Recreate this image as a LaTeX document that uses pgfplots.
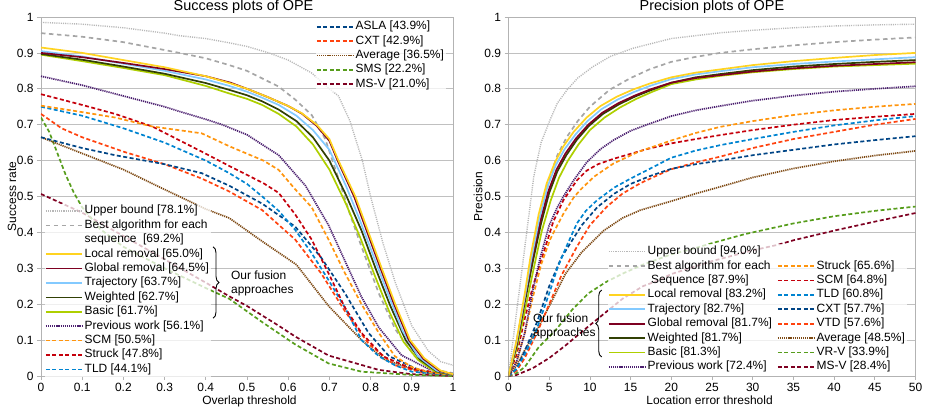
\documentclass[border=0pt]{standalone}
\usepackage{fontspec}
\setmainfont{Liberation Sans}
\usepackage{pgfplots}
\pgfplotsset{compat=1.18}
\usetikzlibrary{decorations.pathreplacing}

\definecolor{cUB}{HTML}{B8B8B8}
\definecolor{cBest}{HTML}{A6A6A6}
\definecolor{cYellow}{HTML}{FFD320}
\definecolor{cDarkRed}{HTML}{7E0021}
\definecolor{cLightBlue}{HTML}{83CAFF}
\definecolor{cOlive}{HTML}{314004}
\definecolor{cLime}{HTML}{AECF00}
\definecolor{cPurple}{HTML}{4B1F6F}
\definecolor{cOrange}{HTML}{FF950E}
\definecolor{cRed}{HTML}{C5000B}
\definecolor{cBlue}{HTML}{0084D1}
\definecolor{cNavy}{HTML}{004586}
\definecolor{cOrRed}{HTML}{FF420E}
\definecolor{cGreen}{HTML}{579D1C}
\definecolor{cBrown}{HTML}{7E4A14}
\definecolor{cAxis}{HTML}{B3B3B3}
\definecolor{cGrid}{HTML}{C0C0C0}

\tikzset{
  ubS/.style={color=cUB, line width=1.4bp, dash pattern=on 1.1bp off 1.1bp},
  bestS/.style={color=cBest, line width=1.7bp, dash pattern=on 4.5bp off 3.5bp},
  solS/.style={line width=1.7bp, line join=round},
  dotS/.style={line width=1.7bp, dash pattern=on 1.2bp off 0.9bp},
  dasS/.style={line width=1.7bp, dash pattern=on 4bp off 2.5bp},
}

\pgfplotsset{
  common/.style={
    scale only axis, width=#1, height=359bp, ymin=0, ymax=1,
    ytick={0,0.1,0.2,0.3,0.4,0.5,0.6,0.7,0.8,0.9,1},
    yticklabels={0,0.1,0.2,0.3,0.4,0.5,0.6,0.7,0.8,0.9,1},
    axis line style={cAxis, line width=0.8bp},
    ymajorgrids, major grid style={cGrid, line width=0.7bp},
    tick align=outside, xtick pos=left, ytick pos=left,
    major tick length=4bp, tick style={cAxis, line width=0.7bp},
    tick label style={font=\fontsize{12}{14}\selectfont},
    label style={font=\fontsize{12}{14}\selectfont},
    title style={font=\fontsize{14.5}{17}\selectfont},
    legend cell align=left,
    legend style={draw=none, fill=white, fill opacity=0.75, draw opacity=1, text opacity=1,
      inner sep=0pt, outer sep=0pt, row sep=0pt,
      font=\fontsize{12}{14}\selectfont,
      nodes={inner xsep=2bp, inner ysep=1.6bp, text height=8.6bp, text depth=2.6bp},
      /tikz/every even column/.append style={column sep=3bp}},
  },
}

\begin{document}
\begin{tikzpicture}
\useasboundingbox (-41bp,-35bp) rectangle (885bp,376bp);

% ================= LEFT: success plot =================
\begin{axis}[common=412bp, at={(0,0)}, anchor=south west,
  xmin=0, xmax=1,
  xtick={0,0.1,0.2,0.3,0.4,0.5,0.6,0.7,0.8,0.9,1},
  xticklabels={0,0.1,0.2,0.3,0.4,0.5,0.6,0.7,0.8,0.9,1},
  title={Success plots of OPE}, title style={at={(0.4915,1)}, anchor=south, yshift=-5.5bp},
  xlabel={Overlap threshold}, xlabel style={at={(0.506,0)}, anchor=base, yshift=-28.5bp},
  ylabel={Success rate}, ylabel style={at={(-0.0704,0.5)}, anchor=center},
  legend image code/.code={\draw[#1] (0bp,0bp) -- (36bp,0bp);},
  legend style={at={(0.0097,0.4797)}, anchor=north west},
]
% Upper bound
\addplot[ubS, forget plot] coordinates {(0,0.985)(0.1,0.98)(0.2,0.97)(0.3,0.955)(0.336,0.948)(0.4,0.94)(0.457,0.928)(0.5,0.918)(0.553,0.90)(0.6,0.88)(0.657,0.844)(0.7,0.80)(0.722,0.78)(0.75,0.71)(0.78,0.60)(0.8,0.50)(0.83,0.37)(0.86,0.26)(0.9,0.14)(0.94,0.07)(0.97,0.04)(1.0,0.03)};
% Best algorithm
\addplot[bestS, forget plot] coordinates {(0,0.955)(0.1,0.945)(0.2,0.93)(0.336,0.90)(0.4,0.885)(0.457,0.866)(0.5,0.85)(0.577,0.806)(0.617,0.77)(0.657,0.727)(0.69,0.66)(0.722,0.55)(0.75,0.45)(0.778,0.36)(0.82,0.23)(0.86,0.13)(0.907,0.055)(0.955,0.018)(1,0.008)};
% MS-V
\addplot[dasS, cDarkRed, forget plot] coordinates {(0,0.507)(0.1,0.455)(0.2,0.39)(0.3,0.325)(0.4,0.26)(0.457,0.222)(0.5,0.195)(0.577,0.14)(0.617,0.11)(0.698,0.057)(0.82,0.017)(0.9,0.005)(1,0)};
% SMS
\addplot[dasS, cGreen, forget plot] coordinates {(0,0.72)(0.02,0.68)(0.04,0.62)(0.06,0.56)(0.08,0.51)(0.1,0.47)(0.143,0.41)(0.2,0.36)(0.3,0.30)(0.4,0.245)(0.457,0.215)(0.537,0.15)(0.617,0.088)(0.698,0.035)(0.778,0.012)(0.9,0.003)(1,0)};
% Average
\addplot[dotS, cBrown, forget plot] coordinates {(0,0.665)(0.1,0.62)(0.2,0.575)(0.29,0.525)(0.4,0.465)(0.457,0.44)(0.537,0.375)(0.62,0.31)(0.698,0.195)(0.778,0.10)(0.835,0.045)(0.908,0.017)(1,0.003)};
% CXT
\addplot[dasS, cOrRed, forget plot] coordinates {(0,0.73)(0.05,0.69)(0.1,0.665)(0.2,0.625)(0.3,0.59)(0.39,0.55)(0.457,0.514)(0.537,0.462)(0.617,0.38)(0.68,0.286)(0.738,0.18)(0.795,0.09)(0.859,0.03)(0.93,0.008)(1,0.002)};
% ASLA
\addplot[dasS, cNavy, forget plot] coordinates {(0,0.665)(0.1,0.635)(0.18,0.615)(0.3,0.59)(0.39,0.565)(0.457,0.53)(0.537,0.48)(0.617,0.416)(0.68,0.33)(0.738,0.23)(0.795,0.12)(0.845,0.055)(0.93,0.01)(1,0.002)};
% TLD
\addplot[dasS, cBlue, forget plot] coordinates {(0,0.75)(0.1,0.725)(0.2,0.69)(0.3,0.65)(0.4,0.6)(0.457,0.565)(0.5,0.535)(0.537,0.50)(0.577,0.46)(0.617,0.407)(0.657,0.342)(0.698,0.267)(0.738,0.19)(0.778,0.10)(0.82,0.055)(0.859,0.03)(0.9,0.012)(1,0.002)};
% Struck
\addplot[dasS, cRed, forget plot] coordinates {(0,0.785)(0.1,0.755)(0.18,0.73)(0.27,0.695)(0.39,0.625)(0.457,0.585)(0.54,0.537)(0.577,0.51)(0.617,0.45)(0.657,0.38)(0.698,0.286)(0.738,0.19)(0.778,0.12)(0.83,0.055)(0.9,0.02)(1,0.003)};
% SCM
\addplot[dasS, cOrange, forget plot] coordinates {(0,0.753)(0.1,0.735)(0.18,0.72)(0.27,0.695)(0.39,0.676)(0.457,0.64)(0.54,0.60)(0.577,0.574)(0.617,0.52)(0.657,0.47)(0.698,0.38)(0.738,0.286)(0.778,0.20)(0.82,0.12)(0.859,0.055)(0.9,0.025)(0.94,0.01)(1,0.003)};
% Previous work
\addplot[dotS, cPurple, forget plot] coordinates {(0,0.835)(0.1,0.81)(0.2,0.78)(0.3,0.75)(0.336,0.737)(0.4,0.715)(0.44,0.70)(0.5,0.672)(0.577,0.615)(0.642,0.53)(0.698,0.42)(0.738,0.32)(0.778,0.22)(0.82,0.135)(0.875,0.058)(0.94,0.02)(1,0.005)};
% Basic
\addplot[solS, cLime, forget plot] coordinates {(0,0.895)(0.1,0.877)(0.2,0.858)(0.3,0.838)(0.4,0.808)(0.457,0.787)(0.5,0.772)(0.537,0.755)(0.577,0.73)(0.62,0.695)(0.66,0.645)(0.7,0.575)(0.74,0.48)(0.775,0.385)(0.81,0.28)(0.845,0.18)(0.88,0.095)(0.915,0.045)(0.955,0.013)(1,0.003)};
% Weighted
\addplot[solS, cOlive, forget plot] coordinates {(0,0.897)(0.1,0.881)(0.2,0.862)(0.3,0.842)(0.4,0.816)(0.457,0.797)(0.5,0.782)(0.537,0.765)(0.577,0.742)(0.62,0.71)(0.66,0.665)(0.7,0.60)(0.74,0.505)(0.778,0.405)(0.812,0.30)(0.848,0.195)(0.885,0.10)(0.92,0.046)(0.96,0.013)(1,0.003)};
% Trajectory
\addplot[solS, cLightBlue, forget plot] coordinates {(0,0.905)(0.1,0.89)(0.2,0.87)(0.3,0.85)(0.4,0.826)(0.457,0.808)(0.5,0.792)(0.537,0.775)(0.577,0.755)(0.62,0.725)(0.66,0.685)(0.7,0.63)(0.74,0.53)(0.772,0.44)(0.805,0.34)(0.84,0.235)(0.878,0.125)(0.915,0.055)(0.96,0.015)(1,0.004)};
% Global removal
\addplot[solS, cDarkRed, forget plot] coordinates {(0,0.90)(0.1,0.888)(0.2,0.872)(0.3,0.855)(0.4,0.835)(0.46,0.817)(0.5,0.80)(0.55,0.777)(0.6,0.752)(0.633,0.731)(0.669,0.697)(0.7,0.655)(0.72,0.60)(0.76,0.50)(0.792,0.40)(0.824,0.30)(0.857,0.20)(0.893,0.10)(0.928,0.048)(0.968,0.014)(1,0.005)};
% Local removal
\addplot[solS, cYellow, forget plot] coordinates {(0,0.915)(0.1,0.90)(0.2,0.88)(0.3,0.86)(0.4,0.835)(0.46,0.815)(0.5,0.80)(0.55,0.777)(0.6,0.752)(0.633,0.732)(0.669,0.70)(0.7,0.66)(0.722,0.60)(0.763,0.50)(0.795,0.40)(0.827,0.30)(0.86,0.20)(0.896,0.10)(0.93,0.05)(0.97,0.015)(1,0.005)};

\addlegendimage{ubS}\addlegendentry{Upper bound [78.1\%]}
\addlegendimage{bestS}\addlegendentry{Best algorithm for each}
\addlegendimage{empty legend}\addlegendentry{sequence\ \ [69.2\%]}
\addlegendimage{solS, cYellow}\addlegendentry{Local removal [65.0\%]}
\addlegendimage{solS, cDarkRed}\addlegendentry{Global removal [64.5\%]}
\addlegendimage{solS, cLightBlue}\addlegendentry{Trajectory [63.7\%]}
\addlegendimage{solS, cOlive}\addlegendentry{Weighted [62.7\%]}
\addlegendimage{solS, cLime}\addlegendentry{Basic [61.7\%]}
\addlegendimage{dotS, cPurple}\addlegendentry{Previous work [56.1\%]}
\addlegendimage{dasS, cOrange}\addlegendentry{SCM [50.5\%]}
\addlegendimage{dasS, cRed}\addlegendentry{Struck [47.8\%]}
\addlegendimage{dasS, cBlue}\addlegendentry{TLD [44.1\%]}

\coordinate (LbT) at (axis description cs:0.4175,0.360);
\coordinate (LbB) at (axis description cs:0.4175,0.161);
\coordinate (LtX) at (axis description cs:0.461,0.259);
\end{axis}

% second legend of the left panel
\begin{axis}[common=412bp, at={(0,0)}, anchor=south west, hide axis,
  xmin=0, xmax=1,
  legend image code/.code={\draw[#1] (0bp,0bp) -- (36bp,0bp);},
  legend style={at={(0.6675,0.993)}, anchor=north west},
]
\addlegendimage{dasS, cNavy}\addlegendentry{ASLA [43.9\%]}
\addlegendimage{dasS, cOrRed}\addlegendentry{CXT [42.9\%]}
\addlegendimage{dotS, cBrown}\addlegendentry{Average [36.5\%]}
\addlegendimage{dasS, cGreen}\addlegendentry{SMS [22.2\%]}
\addlegendimage{dasS, cDarkRed}\addlegendentry{MS-V [21.0\%]}
\end{axis}

\draw[decorate, decoration={brace, amplitude=6bp}, line width=0.9bp] (LbT) -- (LbB);
\node[anchor=west, align=left, font=\fontsize{12}{14}\selectfont, inner sep=0pt] at (LtX) {Our fusion\\approaches};

% ================= RIGHT: precision plot =================
\begin{axis}[common=407bp, at={(467.5bp,0)}, anchor=south west,
  xmin=0, xmax=50,
  xtick={0,5,10,15,20,25,30,35,40,45,50},
  xticklabels={0,5,10,15,20,25,30,35,40,45,50},
  title={Precision plots of OPE}, title style={at={(0.5,1)}, anchor=south, yshift=-5.5bp},
  xlabel={Location error threshold}, xlabel style={at={(0.494,0)}, anchor=base, yshift=-28.5bp},
  ylabel={Precision}, ylabel style={at={(-0.075,0.5)}, anchor=center},
  legend columns=2,
  legend image code/.code={\draw[#1] (0bp,0bp) -- (36bp,0bp);},
  legend style={at={(0.2445,0.3663)}, anchor=north west},
]
% Upper bound
\addplot[ubS, forget plot] coordinates {(0,0)(0.5,0.09)(1,0.18)(1.9,0.34)(3.1,0.555)(4,0.65)(5.1,0.713)(6,0.76)(7.2,0.797)(8.5,0.83)(10.4,0.862)(12.5,0.89)(15.3,0.913)(20,0.94)(26,0.956)(30,0.963)(35,0.97)(40,0.975)(45,0.978)(50,0.98)};
% Best
\addplot[bestS, forget plot] coordinates {(0,0)(1,0.10)(2,0.22)(3,0.34)(4,0.45)(5.1,0.555)(6,0.615)(7.2,0.667)(8.5,0.71)(10,0.75)(12.4,0.797)(15,0.83)(17.4,0.855)(20,0.875)(23,0.889)(26,0.90)(30,0.91)(35,0.921)(40,0.93)(45,0.937)(50,0.943)};
% MS-V
\addplot[dasS, cDarkRed, forget plot] coordinates {(0,0)(1,0.003)(3,0.022)(5,0.05)(7,0.085)(9,0.123)(11,0.16)(14,0.215)(16.5,0.25)(18.5,0.267)(20,0.284)(25,0.32)(30,0.35)(33,0.365)(35,0.378)(40,0.405)(45,0.43)(50,0.454)};
% VR-V
\addplot[dasS, cGreen, forget plot] coordinates {(0,0)(1,0.008)(2,0.025)(3.7,0.08)(5.8,0.128)(7.8,0.184)(9.8,0.23)(12,0.262)(14,0.285)(16.5,0.31)(20,0.339)(22.6,0.354)(25,0.37)(29,0.395)(32,0.41)(35,0.425)(40,0.445)(45,0.46)(50,0.472)};
% Average
\addplot[dotS, cBrown, forget plot] coordinates {(0,0)(1,0.03)(2,0.072)(3.7,0.137)(5.35,0.21)(7,0.285)(9,0.345)(11.7,0.405)(14,0.44)(16.2,0.462)(20,0.487)(23,0.508)(26,0.527)(30,0.553)(35,0.578)(40,0.598)(45,0.614)(50,0.627)};
% VTD
\addplot[dasS, cOrRed, forget plot] coordinates {(0,0)(1,0.015)(2,0.05)(3.5,0.12)(5,0.2)(6.5,0.28)(8.4,0.36)(10,0.42)(12.1,0.472)(14,0.508)(16.2,0.537)(18,0.556)(20,0.576)(23,0.595)(26,0.611)(30,0.635)(35,0.66)(40,0.68)(45,0.70)(50,0.716)};
% CXT
\addplot[dasS, cNavy, forget plot] coordinates {(0,0)(1,0.02)(2,0.07)(3.5,0.15)(5,0.25)(6.5,0.33)(7.6,0.37)(9,0.42)(10.9,0.47)(13,0.508)(15,0.535)(17.5,0.558)(20,0.577)(23,0.59)(26,0.60)(30,0.615)(35,0.63)(40,0.645)(45,0.657)(50,0.668)};
% TLD
\addplot[dasS, cBlue, forget plot] coordinates {(0,0)(1,0.02)(2,0.06)(3.3,0.12)(5,0.23)(6,0.3)(7,0.355)(8.4,0.425)(9.5,0.46)(10.9,0.49)(13,0.525)(15,0.55)(17,0.573)(20,0.608)(23,0.628)(26,0.643)(30,0.66)(35,0.68)(40,0.698)(45,0.712)(50,0.724)};
% SCM
\addplot[dasS, cRed, forget plot] coordinates {(0,0)(1,0.06)(2,0.16)(3,0.25)(3.9,0.314)(5.5,0.43)(6.75,0.49)(8.4,0.545)(9.6,0.572)(11,0.59)(12.9,0.605)(17,0.632)(20,0.648)(23,0.66)(26,0.671)(30,0.685)(35,0.70)(40,0.713)(45,0.722)(50,0.73)};
% Struck
\addplot[dasS, cOrange, forget plot] coordinates {(0,0)(1,0.04)(2,0.12)(3,0.22)(4,0.31)(5.1,0.38)(6,0.42)(6.75,0.452)(8,0.497)(8.8,0.518)(10.5,0.555)(12.9,0.592)(16,0.625)(20,0.656)(23,0.677)(26,0.694)(30,0.71)(35,0.727)(40,0.74)(45,0.75)(50,0.758)};
% Previous work
\addplot[dotS, cPurple, forget plot] coordinates {(0,0)(1,0.04)(2,0.12)(3,0.24)(3.9,0.33)(5,0.42)(6,0.47)(6.75,0.50)(8,0.545)(9.6,0.595)(11.3,0.632)(12.9,0.657)(15,0.683)(17,0.70)(20,0.724)(23,0.74)(26,0.752)(30,0.767)(35,0.781)(40,0.792)(45,0.80)(50,0.807)};
% Basic
\addplot[solS, cLime, forget plot] coordinates {(0,0)(1,0.075)(2,0.18)(3.1,0.30)(4.1,0.405)(5.2,0.49)(6.2,0.552)(7.3,0.60)(8.6,0.645)(10,0.685)(11.8,0.72)(13.7,0.748)(15.7,0.772)(17.7,0.792)(20,0.813)(23,0.826)(26,0.836)(30,0.846)(35,0.855)(40,0.862)(45,0.866)(50,0.87)};
% Weighted
\addplot[solS, cOlive, forget plot] coordinates {(0,0)(1,0.085)(2,0.205)(3,0.32)(4,0.425)(5,0.51)(6,0.57)(7.1,0.615)(8.4,0.658)(9.9,0.697)(11.6,0.73)(13.6,0.757)(15.6,0.779)(17.6,0.797)(20,0.817)(23,0.832)(26,0.841)(30,0.852)(35,0.862)(40,0.869)(45,0.875)(50,0.88)};
% Global removal
\addplot[solS, cDarkRed, forget plot] coordinates {(0,0)(1,0.09)(2,0.215)(2.8,0.315)(3.9,0.43)(4.9,0.515)(5.9,0.575)(7,0.62)(8.3,0.662)(9.8,0.70)(11.5,0.733)(13.5,0.76)(15.5,0.781)(17.5,0.799)(20,0.817)(23,0.83)(26,0.838)(30,0.848)(35,0.857)(40,0.864)(45,0.869)(50,0.874)};
% Trajectory
\addplot[solS, cLightBlue, forget plot] coordinates {(0,0)(1,0.095)(2,0.22)(2.8,0.325)(3.8,0.44)(4.8,0.528)(5.8,0.587)(6.9,0.632)(8.2,0.672)(9.7,0.71)(11.4,0.743)(13.4,0.77)(15.4,0.791)(17.5,0.809)(20,0.827)(23,0.84)(26,0.849)(30,0.86)(35,0.869)(40,0.876)(45,0.882)(50,0.888)};
% Local removal
\addplot[solS, cYellow, forget plot] coordinates {(0,0)(1,0.10)(2,0.23)(2.7,0.332)(3.7,0.45)(4.7,0.537)(5.7,0.595)(6.75,0.64)(8,0.68)(9.6,0.72)(11.3,0.752)(13.3,0.778)(15.3,0.798)(17.4,0.815)(20,0.832)(23,0.845)(26,0.854)(30,0.866)(35,0.877)(40,0.886)(45,0.894)(50,0.90)};

\addlegendimage{ubS}\addlegendentry{Upper bound [94.0\%]}
\addlegendimage{empty legend}\addlegendentry{}
\addlegendimage{bestS}\addlegendentry{Best algorithm for each}
\addlegendimage{dasS, cOrange}\addlegendentry{Struck [65.6\%]}
\addlegendimage{empty legend}\addlegendentry{\ Sequence [87.9\%]}
\addlegendimage{dasS, cRed}\addlegendentry{SCM [64.8\%]}
\addlegendimage{solS, cYellow}\addlegendentry{Local removal [83.2\%]}
\addlegendimage{dasS, cBlue}\addlegendentry{TLD [60.8\%]}
\addlegendimage{solS, cLightBlue}\addlegendentry{Trajectory [82.7\%]}
\addlegendimage{dasS, cNavy}\addlegendentry{CXT [57.7\%]}
\addlegendimage{solS, cDarkRed}\addlegendentry{Global removal [81.7\%]}
\addlegendimage{dasS, cOrRed}\addlegendentry{VTD [57.6\%]}
\addlegendimage{solS, cOlive}\addlegendentry{Weighted [81.7\%]}
\addlegendimage{dotS, cBrown}\addlegendentry{Average [48.5\%]}
\addlegendimage{solS, cLime}\addlegendentry{Basic [81.3\%]}
\addlegendimage{dasS, cGreen}\addlegendentry{VR-V [33.9\%]}
\addlegendimage{dotS, cPurple}\addlegendentry{Previous work [72.4\%]}
\addlegendimage{dasS, cDarkRed}\addlegendentry{MS-V [28.4\%]}

\coordinate (RbT) at (axis description cs:0.229,0.2396);
\coordinate (RbB) at (axis description cs:0.229,0.053);
\coordinate (RtX) at (axis description cs:0.06,0.137);
\end{axis}

\draw[decorate, decoration={brace, amplitude=6bp}, line width=0.9bp] (RbB) -- (RbT);
\node[anchor=west, align=left, font=\fontsize{12}{14}\selectfont, inner sep=0pt] at (RtX) {Our fusion\\approaches};
\end{tikzpicture}
\end{document}
